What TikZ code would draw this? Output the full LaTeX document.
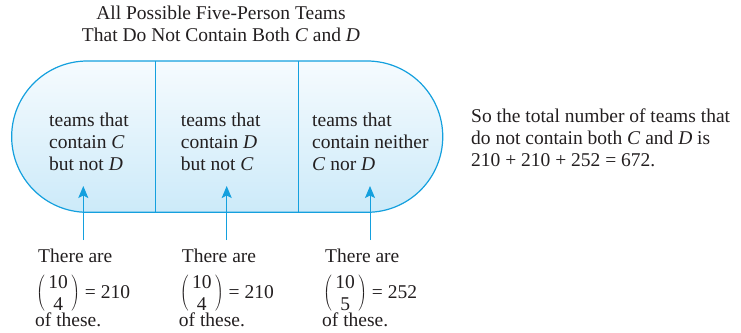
\documentclass[tikz,border=0pt]{standalone}
\usepackage{fontspec}
\setmainfont{Liberation Serif}
\usetikzlibrary{arrows.meta}
\definecolor{ln}{RGB}{20,160,222}
\definecolor{ink}{RGB}{35,31,32}
\definecolor{topc}{RGB}{246,251,254}
\definecolor{botc}{RGB}{204,234,249}
\newcommand{\bnm}[2]{$\left(\,\vcenter{\hbox{\vbox{\baselineskip=22pt\halign{\hfil##\hfil\cr #1\cr #2\cr}}}}\,\right)$}
\begin{document}
\begin{tikzpicture}[x=1pt,y=1pt,
  every node/.style={font=\fontsize{19.5}{22}\selectfont, text=ink},
  txt/.style={inner sep=0pt, anchor=base west, align=left},
  ttl/.style={inner sep=0pt, anchor=base, align=center},
  wall/.style={draw=ln, line width=1.2pt},
  ptr/.style={draw=ln, line width=1pt, -{Stealth[length=12pt,width=10pt,inset=2.5pt]}}]
\useasboundingbox (0,0) rectangle (741,-332);
% stadium
\path[wall, top color=topc, bottom color=botc]
  (87.3,-61) -- (367.1,-61) arc[start angle=90, end angle=-90, radius=75.65]
  -- (87.3,-212.3) arc[start angle=270, end angle=90, radius=75.65] -- cycle;
\coordinate (d1t) at (155.3,-61);
\coordinate (d1b) at (155.3,-212.3);
\coordinate (d2t) at (298.3,-61);
\coordinate (d2b) at (298.3,-212.3);
\draw[wall] (d1t) -- (d1b);
\draw[wall] (d2t) -- (d2b);
% title (base = last line)
\node[ttl] (title) at (221,-41.7) {All Possible Five-Person Teams\\That Do Not Contain Both \textit{C} and \textit{D}};
% column texts
\node[txt] (c1) at (49,-170) {teams that\\contain \textit{C}\\but not \textit{D}};
\node[txt] (c2) at (180.7,-170) {teams that\\contain \textit{D}\\but not \textit{C}};
\node[txt] (c3) at (312,-170) {teams that\\contain neither\\\textit{C} nor \textit{D}};
% right text
\node[txt] (sum) at (471,-166) {So the total number of teams that\\do not contain both \textit{C} and \textit{D} is\\210 + 210 + 252 = 672.};
% bottom texts
\node[txt] (t1) at (38,-262.7) {There are};
\node[txt] (m1) at (36,-298) {\bnm{10}{4} = 210};
\node[txt] (o1) at (35,-326.7) {of these.};
\node[txt] (t2) at (181.7,-262.7) {There are};
\node[txt] (m2) at (179.7,-298) {\bnm{10}{4} = 210};
\node[txt] (o2) at (178.7,-326.7) {of these.};
\node[txt] (t3) at (325,-262.7) {There are};
\node[txt] (m3) at (323,-298) {\bnm{10}{5} = 252};
\node[txt] (o3) at (322,-326.7) {of these.};
% arrows
\coordinate (a1s) at (83.3,-240);
\coordinate (a1e) at (83.3,-186);
\coordinate (a2s) at (226.7,-240);
\coordinate (a2e) at (226.7,-186);
\coordinate (a3s) at (370,-240);
\coordinate (a3e) at (370,-186);
\draw[ptr] (a1s) -- (a1e);
\draw[ptr] (a2s) -- (a2e);
\draw[ptr] (a3s) -- (a3e);
\end{tikzpicture}
\end{document}
